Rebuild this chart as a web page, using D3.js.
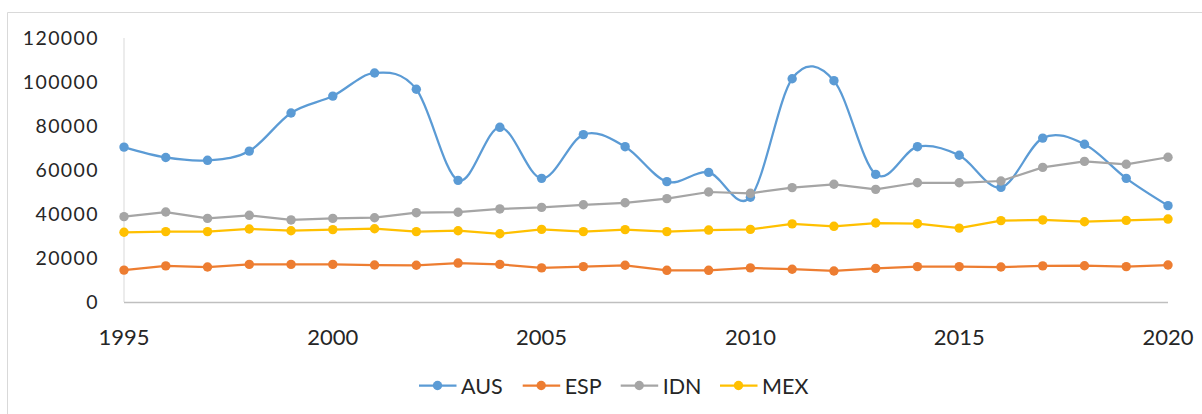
<!DOCTYPE html>
<html>
<head>
<meta charset="utf-8">
<script src="https://cdn.jsdelivr.net/npm/d3@7"></script>
<style>
  html, body { margin: 0; padding: 0; background: #fff; }
  svg { display: block; font-family: Lato, "Open Sans", sans-serif; }
</style>
</head>
<body>
<svg id="chart" width="1202" height="414"></svg>
<script>
const years = d3.range(1995, 2021);
const xTickLabels = [1995, 2000, 2005, 2010, 2015, 2020];
const yTickLabels = [0, 20000, 40000, 60000, 80000, 100000, 120000];
const seriesNames = ["AUS", "ESP", "IDN", "MEX"];
const seriesColors = ["#5B9BD5", "#ED7D31", "#A5A5A5", "#FFC000"];

const AUS = [70400, 65700, 64400, 68600, 85900, 93600, 104100, 96700, 55300, 79400,
             56200, 76100, 70600, 54700, 58900, 47600, 101500, 100600, 58000, 70600,
             66700, 52100, 74500, 71700, 56200, 43800];
const ESP = [14500, 16400, 15900, 17100, 17100, 17100, 16800, 16700, 17700, 17100,
             15500, 16100, 16700, 14400, 14400, 15500, 14900, 14100, 15300, 16100,
             16100, 15900, 16400, 16500, 16100, 16800];
const IDN = [38800, 40900, 38000, 39400, 37300, 38000, 38300, 40600, 40800, 42300,
             43000, 44200, 45100, 47000, 50000, 49400, 52000, 53500, 51200, 54200,
             54200, 55000, 61200, 63900, 62600, 65800];
const MEX = [31700, 32000, 32000, 33200, 32400, 32900, 33300, 32000, 32400, 31000,
             33000, 32000, 32900, 32000, 32700, 33000, 35500, 34400, 35900, 35600,
             33600, 37000, 37300, 36500, 37100, 37700];

const seriesValues = [AUS, ESP, IDN, MEX];
const smoothed = [true, false, false, false];

const svg = d3.select("#chart");

// outer frame (chart area border)
svg.append("path")
  .attr("d", "M7.5,414 V12.5 H1202")
  .attr("fill", "none")
  .attr("stroke", "#d9d9d9")
  .attr("stroke-width", 1);

const x = d3.scaleLinear().domain([1995, 2020]).range([124, 1168]);
const y = d3.scaleLinear().domain([0, 120000]).range([302, 38]);

// axes lines
svg.append("line")
  .attr("x1", x(1995)).attr("x2", x(1995))
  .attr("y1", y(120000)).attr("y2", y(0))
  .attr("stroke", "#d9d9d9").attr("stroke-width", 1);
svg.append("line")
  .attr("x1", x(1995)).attr("x2", x(2020))
  .attr("y1", y(0) + 0.5).attr("y2", y(0) + 0.5)
  .attr("stroke", "#bfbfbf").attr("stroke-width", 1.3);

// y tick labels
svg.append("g").selectAll("text")
  .data(yTickLabels)
  .join("text")
  .attr("x", 99)
  .attr("y", d => y(d) + 7)
  .attr("text-anchor", "end")
  .attr("font-size", 19.5)
  .attr("letter-spacing", 1.4)
  .attr("fill", "#262626")
  .text(d => d);

// x tick labels
svg.append("g").selectAll("text")
  .data(xTickLabels)
  .join("text")
  .attr("x", d => x(d))
  .attr("y", 345)
  .attr("text-anchor", "middle")
  .attr("font-size", 22)
  .attr("fill", "#262626")
  .text(d => d);

// series
seriesNames.forEach((name, i) => {
  const vals = seriesValues[i];
  const line = d3.line()
    .x((d, j) => x(years[j]))
    .y(d => y(d))
    .curve(smoothed[i] ? d3.curveCatmullRom.alpha(0) : d3.curveLinear);
  const g = svg.append("g");
  g.append("path")
    .attr("d", line(vals))
    .attr("fill", "none")
    .attr("stroke", seriesColors[i])
    .attr("stroke-width", 2.25)
    .attr("stroke-linejoin", "round");
  g.selectAll("circle")
    .data(vals)
    .join("circle")
    .attr("cx", (d, j) => x(years[j]))
    .attr("cy", d => y(d))
    .attr("r", 4.7)
    .attr("fill", seriesColors[i]);
});

// draw order: later series on top already; legend
const legendX = [419, 522.7, 620.7, 720];
const legend = svg.append("g");
seriesNames.forEach((name, i) => {
  const lx = legendX[i];
  legend.append("line")
    .attr("x1", lx).attr("x2", lx + 37.5)
    .attr("y1", 385.5).attr("y2", 385.5)
    .attr("stroke", seriesColors[i]).attr("stroke-width", 2.25);
  legend.append("circle")
    .attr("cx", lx + 18.5).attr("cy", 385.5).attr("r", 4.7)
    .attr("fill", seriesColors[i]);
  legend.append("text")
    .attr("x", lx + 42)
    .attr("y", 393.5)
    .attr("font-size", 21.5)
    .attr("fill", "#262626")
    .text(name);
});
</script>
</body>
</html>
